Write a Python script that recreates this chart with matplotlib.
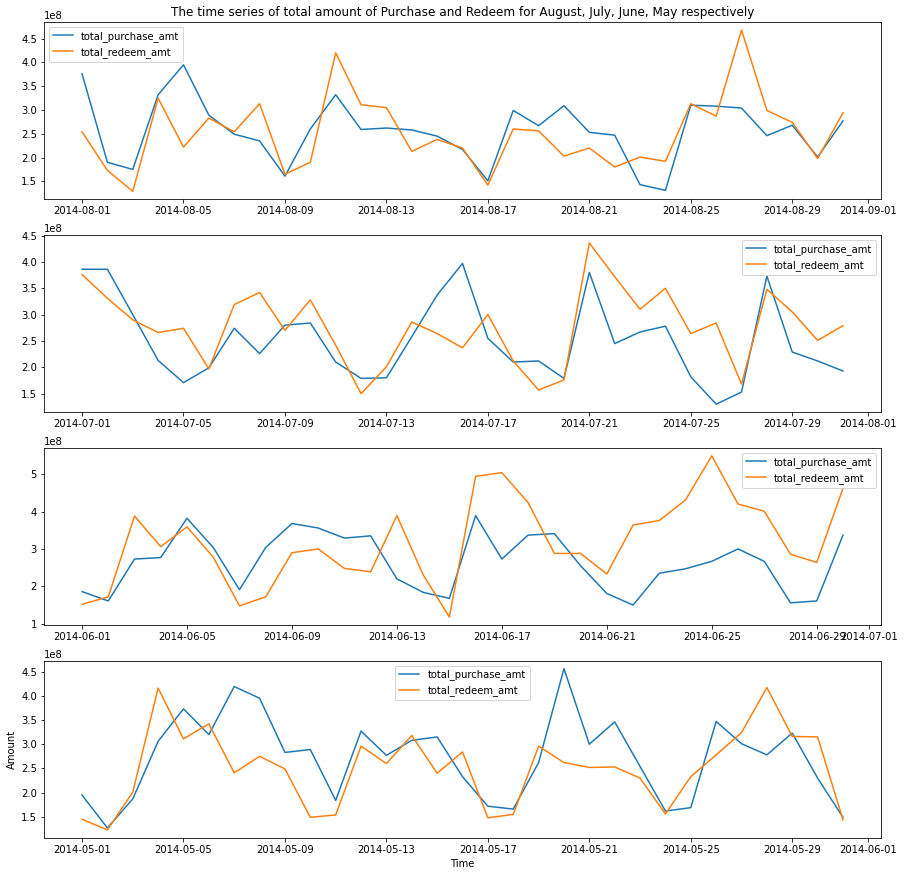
import numpy as np
import pandas as pd
import matplotlib
matplotlib.use("Agg")
import matplotlib.pyplot as plt

# daily totals in units of 1e8
aug_purchase = [3.76, 1.90, 1.75, 3.32, 3.95, 2.89, 2.49, 2.35, 1.61, 2.60, 3.32, 2.59, 2.62, 2.58, 2.45, 2.17,
                1.51, 2.99, 2.67, 3.09, 2.53, 2.47, 1.43, 1.31, 3.10, 3.08, 3.04, 2.46, 2.68, 2.01, 2.77]
aug_redeem = [2.54, 1.73, 1.29, 3.25, 2.22, 2.83, 2.54, 3.13, 1.65, 1.90, 4.20, 3.11, 3.05, 2.13, 2.38, 2.20,
              1.42, 2.60, 2.56, 2.03, 2.20, 1.80, 2.01, 1.92, 3.13, 2.87, 4.68, 2.99, 2.74, 1.98, 2.94]

jul_purchase = [3.86, 3.86, 3.00, 2.13, 1.71, 1.99, 2.74, 2.26, 2.80, 2.84, 2.10, 1.79, 1.80, 2.58, 3.37, 3.97,
                2.55, 2.10, 2.12, 1.79, 3.80, 2.45, 2.67, 2.78, 1.82, 1.30, 1.53, 3.73, 2.29, 2.12, 1.93]
jul_redeem = [3.76, 3.31, 2.90, 2.66, 2.74, 1.97, 3.19, 3.42, 2.70, 3.28, 2.42, 1.50, 2.01, 2.86, 2.64, 2.37,
              3.00, 2.12, 1.57, 1.76, 4.36, 3.72, 3.10, 3.50, 2.64, 2.84, 1.68, 3.48, 3.05, 2.51, 2.79]

jun_purchase = [1.86, 1.61, 2.73, 2.77, 3.82, 3.04, 1.91, 3.04, 3.68, 3.56, 3.29, 3.35, 2.20, 1.84, 1.68,
                3.89, 2.73, 3.37, 3.41, 2.55, 1.81, 1.50, 2.35, 2.47, 2.67, 3.00, 2.67, 1.56, 1.61, 3.37]
jun_redeem = [1.52, 1.72, 3.88, 3.06, 3.59, 2.78, 1.48, 1.72, 2.90, 3.00, 2.48, 2.39, 3.89, 2.31, 1.18,
              4.94, 5.04, 4.24, 2.88, 2.88, 2.33, 3.64, 3.76, 4.31, 5.49, 4.20, 4.01, 2.86, 2.64, 4.62]

may_purchase = [1.95, 1.27, 1.87, 3.06, 3.73, 3.20, 4.19, 3.95, 2.83, 2.89, 1.84, 3.27, 2.77, 3.08, 3.15, 2.33,
                1.72, 1.66, 2.62, 4.56, 3.00, 3.46, 2.54, 1.62, 1.69, 3.47, 3.01, 2.78, 3.23, 2.30, 1.49]
may_redeem = [1.45, 1.23, 2.01, 4.16, 3.11, 3.42, 2.41, 2.75, 2.49, 1.49, 1.54, 2.96, 2.60, 3.18, 2.40, 2.84,
              1.48, 1.55, 2.96, 2.62, 2.52, 2.53, 2.30, 1.56, 2.33, 2.78, 3.24, 4.17, 3.16, 3.15, 1.44]

months = [
    ("2014-08-01", aug_purchase, aug_redeem, "upper left"),
    ("2014-07-01", jul_purchase, jul_redeem, "upper right"),
    ("2014-06-01", jun_purchase, jun_redeem, "upper right"),
    ("2014-05-01", may_purchase, may_redeem, "upper center"),
]

fig, axes = plt.subplots(nrows=4, ncols=1, figsize=(905 / 72, 876 / 72), dpi=72)
plt.subplots_adjust(left=0.0486, right=0.9735, top=0.9749, bottom=0.0434, hspace=0.2)

for ax, (start, purchase, redeem, loc) in zip(axes, months):
    dates = pd.date_range(start, periods=len(purchase), freq="D")
    ax.plot(dates, np.array(purchase) * 1e8, label="total_purchase_amt")
    ax.plot(dates, np.array(redeem) * 1e8, label="total_redeem_amt")
    ax.legend(loc=loc)

axes[0].set_title("The time series of total amount of Purchase and Redeem for August, July, June, May respectively")
axes[3].set_xlabel("Time")
axes[3].set_ylabel("Amount")

plt.savefig("out.png", dpi=72)
